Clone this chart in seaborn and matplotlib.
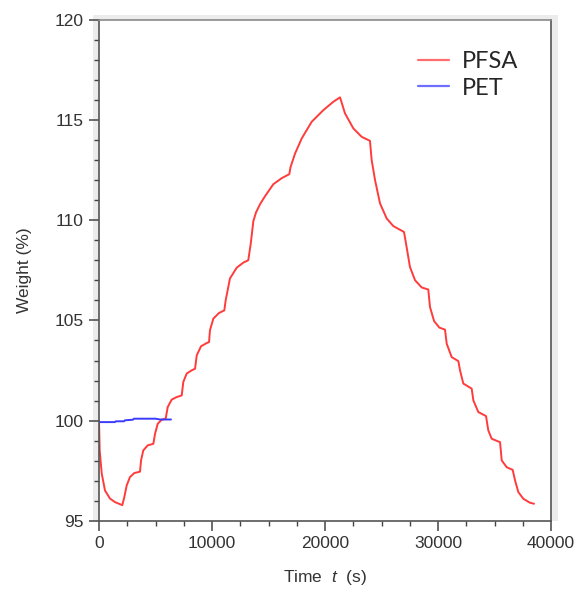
import numpy as np
import pandas as pd
import matplotlib
matplotlib.use("Agg")
import matplotlib.pyplot as plt
import seaborn as sns
from matplotlib.patches import Rectangle
from matplotlib.ticker import MultipleLocator
from matplotlib.lines import Line2D

# ---- data ----
pfsa_t = [0, 60, 240, 530, 970, 1420, 2060,
          2240, 2450, 2740, 3120, 3630,
          3720, 3920, 4310, 4810,
          4960, 5200, 5550, 5900,
          6080, 6430, 6880, 7320,
          7460, 7760, 8200, 8500,
          8650, 9030, 9530, 9740,
          9820, 10120, 10620, 11090,
          11210, 11590, 12190, 12770, 13210,
          13430, 13660, 13900, 14250, 14690, 15430, 16170, 16840,
          16950, 17350, 17940, 18820, 19850, 20740, 21330,
          21770, 22510, 23250, 23980,
          24130, 24430, 24870, 25460, 26050, 26990,
          27170, 27520, 27970, 28560, 29140,
          29290, 29650, 30120, 30620,
          30770, 31210, 31800,
          31950, 32240, 32980,
          33130, 33570, 34250,
          34450, 34750, 35490,
          35640, 36080, 36610,
          36820, 37110, 37550, 38140, 38500]
pfsa_w = [100.0, 98.52, 97.37, 96.52, 96.12, 95.94, 95.79,
          96.19, 96.77, 97.19, 97.39, 97.46,
          98.02, 98.52, 98.77, 98.85,
          99.35, 99.85, 100.05, 100.10,
          100.68, 101.05, 101.18, 101.26,
          101.93, 102.35, 102.51, 102.59,
          103.26, 103.71, 103.87, 103.92,
          104.51, 105.09, 105.37, 105.50,
          106.00, 107.09, 107.63, 107.88, 108.00,
          108.83, 109.95, 110.39, 110.79, 111.19, 111.79, 112.09, 112.29,
          112.64, 113.32, 114.07, 114.90, 115.48, 115.90, 116.12,
          115.32, 114.57, 114.15, 113.95,
          112.99, 111.99, 110.83, 110.08, 109.70, 109.41,
          108.83, 107.66, 107.00, 106.64, 106.54,
          105.67, 104.97, 104.64, 104.54,
          103.84, 103.17, 102.97,
          102.51, 101.85, 101.60,
          101.01, 100.43, 100.23,
          99.52, 99.10, 98.93,
          98.02, 97.68, 97.55,
          97.02, 96.44, 96.11, 95.91, 95.86]

pet_t = [0, 1400, 1500, 2200, 2300, 3000, 3100, 5000, 5400, 6370]
pet_w = [99.93, 99.93, 99.97, 99.97, 100.02, 100.05, 100.10, 100.10, 100.06, 100.06]

series_names = ["PFSA", "PET"]
series_colors = {"PFSA": "#ff3b3b", "PET": "#3b3bff"}

df = pd.concat([
    pd.DataFrame({"t": pfsa_t, "w": pfsa_w, "s": "PFSA"}),
    pd.DataFrame({"t": pet_t, "w": pet_w, "s": "PET"}),
], ignore_index=True)

sns.set_style("white")
plt.rcParams["font.family"] = ["Liberation Sans", "DejaVu Sans"]
plt.rcParams["mathtext.fontset"] = "custom"
plt.rcParams["mathtext.it"] = "Liberation Sans:italic"
plt.rcParams["mathtext.rm"] = "Liberation Sans"

W, H = 580, 589
fig = plt.figure(figsize=(W / 100, H / 100), dpi=100)
L, R, T, B = 99, 551, 19.5, 521
ax = fig.add_axes([L / W, 1 - B / H, (R - L) / W, (B - T) / H])

# soft frame shadow
fig.patches.append(Rectangle(((L - 6) / W, 1 - B / H), (R - L + 13) / W, (B - T + 4.5) / H,
                             transform=fig.transFigure, facecolor="#ececec",
                             edgecolor="none", zorder=-5))
ax.set_facecolor("white")

sns.lineplot(data=df, x="t", y="w", hue="s", hue_order=series_names,
             palette=series_colors, estimator=None, sort=False,
             linewidth=1.4, ax=ax, legend=False)

ax.set_xlim(0, 40000)
ax.set_ylim(95, 120)
ax.xaxis.set_major_locator(MultipleLocator(10000))
ax.xaxis.set_minor_locator(MultipleLocator(2500))
ax.yaxis.set_major_locator(MultipleLocator(5))
ax.yaxis.set_minor_locator(MultipleLocator(1))
ax.tick_params(which="major", direction="out", length=7, width=1.1, color="#444444",
               labelsize=12.5, labelcolor="#333333", pad=4, bottom=True, left=True)
ax.tick_params(which="minor", direction="out", length=3.5, width=1.0, color="#444444",
               bottom=True, left=True)
for side, sp in ax.spines.items():
    sp.set_color("#555555")
    sp.set_linewidth(1.2)
ax.spines["top"].set_color("#8a8a8a")

ax.set_xlabel("Time  $t$  (s)", fontsize=12.5, color="#333333", labelpad=12)
ax.set_ylabel("Weight (%)", fontsize=12.5, color="#333333", labelpad=16)

handles = [Line2D([], [], color="#ff6e6e", lw=1.6), Line2D([], [], color="#6e6eff", lw=1.6)]
leg = ax.legend(handles, series_names, loc="upper right", frameon=False,
                prop={"family": "Lato", "size": 17}, handlelength=1.3, handletextpad=0.55,
                labelspacing=0.25, bbox_to_anchor=(0.975, 0.98))

fig.savefig("out.png", dpi=100, facecolor="white")
